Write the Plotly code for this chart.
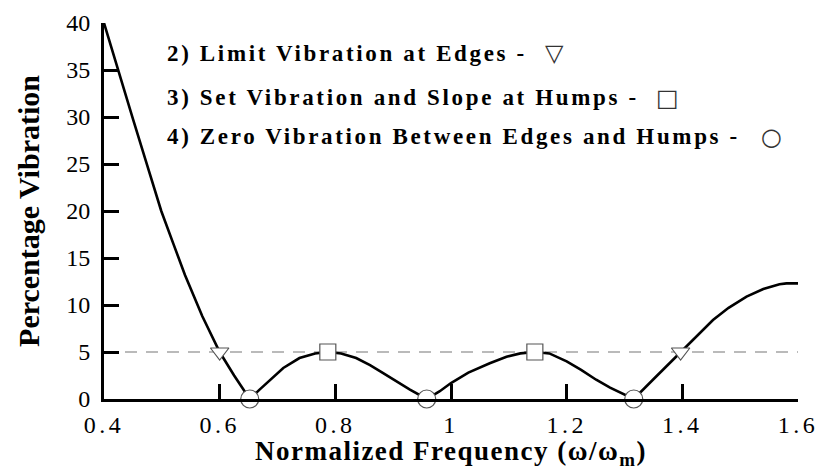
import plotly.graph_objects as go

# Vibration response curve
freq = [0.4, 0.424, 0.45, 0.475, 0.499, 0.52, 0.54, 0.57, 0.6, 0.625, 0.652,
        0.669, 0.69, 0.71, 0.738, 0.765, 0.787, 0.81, 0.836, 0.86, 0.882, 0.905, 0.929, 0.958,
        0.98, 1.0, 1.03, 1.067, 1.096, 1.12, 1.145, 1.17, 1.2, 1.225, 1.251, 1.275, 1.3, 1.316,
        1.35, 1.397, 1.416, 1.435, 1.453, 1.48, 1.511, 1.54, 1.568, 1.58, 1.6]
vib = [40, 35, 29.8, 24.8, 20, 16.5, 13.2, 8.8, 5, 2.5, 0,
       1.0, 2.2, 3.3, 4.36, 4.85, 5.0, 4.85, 4.36, 3.6, 2.77, 1.9, 1.0, 0,
       0.8, 1.7, 2.8, 3.8, 4.5, 4.85, 5.0, 4.85, 4.0, 3.1, 2.05, 1.2, 0.46, 0,
       2.1, 5, 6.1, 7.3, 8.4, 9.7, 10.9, 11.7, 12.2, 12.3, 12.3]

# Constraint points
edge_x = [0.6, 1.397]
edge_y = [5, 5]
hump_x = [0.787, 1.145]
hump_y = [5, 5]
zero_x = [0.652, 0.958, 1.316]
zero_y = [0, 0, 0]

limit_level = 5
x_ticks = [0.4, 0.6, 0.8, 1.0, 1.2, 1.4, 1.6]
x_ticklabels = ["0.4", "0.6", "0.8", "1", "1.2", "1.4", "1.6"]
y_ticks = [0, 5, 10, 15, 20, 25, 30, 35, 40]

legend_lines = [
    "2) Limit Vibration at Edges -",
    "3) Set Vibration and Slope at Humps -",
    "4) Zero Vibration Between Edges and Humps -",
]
legend_symbols = ["\u25BD", "\u25A1", "\u25CB"]

SERIF = "Liberation Serif, Times New Roman, serif"


def spaced(text, px):
    return '<span style="letter-spacing:%spx">%s</span>' % (px, text)


fig = go.Figure()

# dashed limit line
fig.add_trace(go.Scatter(
    x=[x_ticks[0], x_ticks[-1]], y=[limit_level, limit_level], mode="lines",
    line=dict(color="#777777", width=1.2, dash="12px,9px"),
    hoverinfo="skip", showlegend=False))

fig.add_trace(go.Scatter(
    x=freq, y=vib, mode="lines", line=dict(color="black", width=2.6),
    cliponaxis=False, showlegend=False))

marker_line = dict(color="#555555", width=1.2)
fig.add_trace(go.Scatter(
    x=edge_x, y=edge_y, mode="markers", cliponaxis=False, showlegend=False,
    marker=dict(symbol="triangle-down", size=16, color="white", line=marker_line)))
fig.add_trace(go.Scatter(
    x=hump_x, y=hump_y, mode="markers", cliponaxis=False, showlegend=False,
    marker=dict(symbol="square", size=16, color="white", line=marker_line)))
fig.add_trace(go.Scatter(
    x=zero_x, y=zero_y, mode="markers", cliponaxis=False, showlegend=False,
    marker=dict(symbol="circle", size=18, color="white", line=marker_line)))

# legend text lines
text_y = [36.8, 32.05, 27.9]
sym_x = [1.179, 1.374, 1.554]
for txt, sym, ty, sx in zip(legend_lines, legend_symbols, text_y, sym_x):
    fig.add_annotation(x=0.505, y=ty, xref="x", yref="y",
                       text="<b>" + spaced(txt, 2.65) + "</b>",
                       showarrow=False, xanchor="left", yanchor="middle",
                       font=dict(family=SERIF, size=23, color="black"))
    fig.add_annotation(x=sx, y=ty, xref="x", yref="y", text=sym,
                       showarrow=False, xanchor="center", yanchor="middle",
                       font=dict(family="DejaVu Sans", size=24, color="#333333"))

axis_common = dict(
    showline=True, linecolor="black", linewidth=3,
    ticks="inside", ticklen=15, tickwidth=2.5, tickcolor="black",
    showgrid=False, zeroline=False, mirror=False, automargin=False,
    ticklabeloverflow="allow",
    tickfont=dict(family=SERIF, size=24, color="black"),
)

fig.update_xaxes(range=[0.4, 1.6], tickvals=x_ticks,
                 ticktext=[spaced(t, 3.5) for t in x_ticklabels],
                 ticklabelstandoff=2,
                 title=dict(text="<b>" + spaced("Normalized Frequency (\u03C9/\u03C9<sub>m</sub>)", 1.5) + "</b>",
                            font=dict(family=SERIF, size=27, color="black"), standoff=0),
                 **axis_common)
fig.update_yaxes(range=[0, 40], tickvals=y_ticks,
                 ticklabelstandoff=6,
                 title=dict(text="<b>Percentage Vibration</b>",
                            font=dict(family=SERIF, size=30, color="black"), standoff=18),
                 **axis_common)

fig.update_layout(
    width=818, height=470,
    margin=dict(l=104, r=20, t=23, b=71),
    plot_bgcolor="white", paper_bgcolor="white",
)

fig.write_html("out.html")
